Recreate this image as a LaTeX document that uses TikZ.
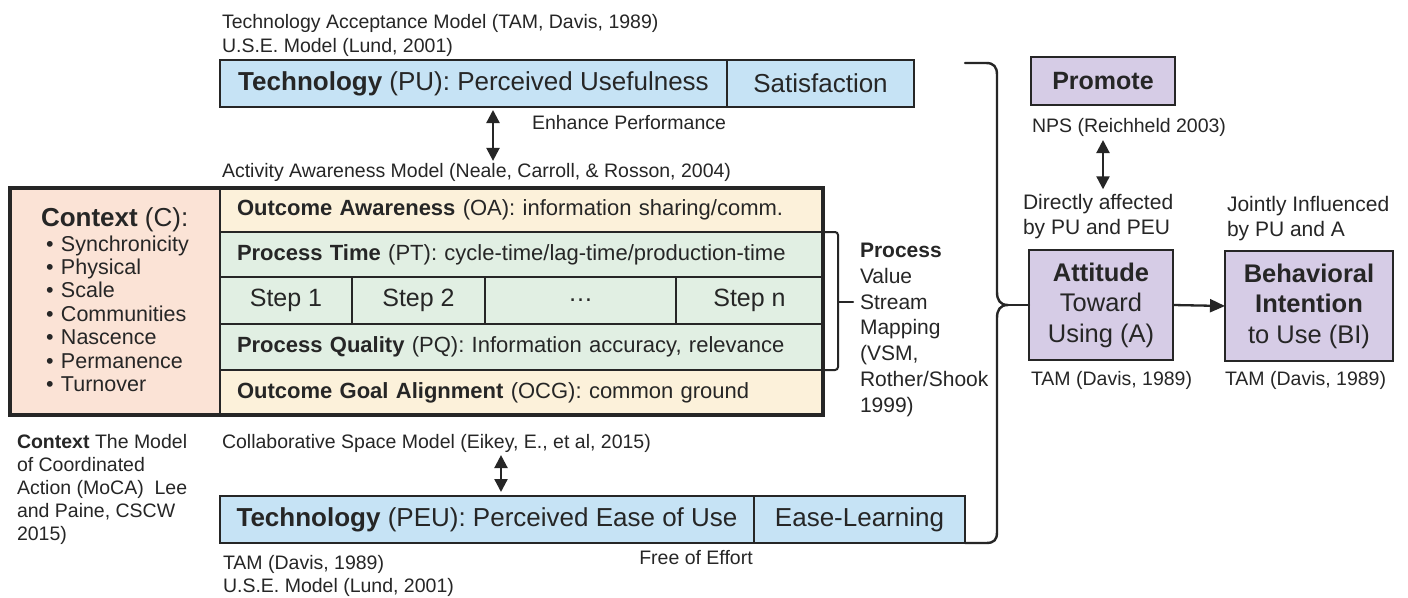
\documentclass[tikz,border=0pt]{standalone}
\usepackage{fontspec}
\setmainfont{Liberation Sans}
\usetikzlibrary{arrows.meta}
\definecolor{techblue}{HTML}{C6E3F5}
\definecolor{ctxpink}{HTML}{FBE3D6}
\definecolor{outcream}{HTML}{FCF1DA}
\definecolor{procgreen}{HTML}{E1EFE3}
\definecolor{purp}{HTML}{D6CCE6}
\definecolor{ink}{HTML}{262626}
\begin{document}
\begin{tikzpicture}[x=1pt,y=-1pt,
  every node/.style={text=ink, inner sep=0pt, outer sep=0pt},
  box/.style={draw=ink, line width=2.8pt, anchor=north west},
  f195/.style={font=\fontsize{19.5}{24}\selectfont},
  f21/.style={font=\fontsize{21}{25}\selectfont},
  f215/.style={font=\fontsize{21.5}{25}\selectfont},
  f25/.style={font=\fontsize{25}{30}\selectfont},
  f26/.style={font=\fontsize{26}{30}\selectfont},
  rowbox/.style={box, text width=569pt, inner xsep=17pt, minimum height=#1, align=left,
    font=\fontsize{22}{26}\selectfont, text height=16pt, text depth=5pt},
  stepbox/.style={box, fill=procgreen, minimum height=47pt, minimum width=#1, f25},
  techbox/.style={box, fill=techblue, minimum height=47pt, minimum width=#1, f26},
  purpbox/.style={box, fill=purp, align=center, font=\fontsize{25.5}{30.5}\selectfont},
  dbl/.style={{Triangle[length=13pt,width=13pt]}-{Triangle[length=13pt,width=13pt]}, draw=ink, line width=2.3pt},
  arr/.style={-{Triangle[length=15pt,width=13pt]}, draw=ink, line width=2.3pt},
  bracestyle/.style={draw=ink, line width=2.4pt, line cap=round, line join=round}
]
\useasboundingbox[fill=white] (0,0) rectangle (1408,597);

% ---------- top labels ----------
\node[f195, anchor=base west] (tamtop) at (222,28) {Technology Acceptance Model (TAM, Davis, 1989)};
\node[f195, anchor=base west] (usetop) at (222,52) {U.S.E. Model (Lund, 2001)};

% ---------- PU box ----------
\node[techbox=507pt] (pu) at (220,60) {\textbf{Technology} (PU): Perceived Usefulness};
\node[techbox=187pt] (sat) at (727,60) {Satisfaction};
\node[f195, anchor=base west] (enh) at (532,129) {Enhance Performance};
\node[f195, anchor=base west] (act) at (222,177) {Activity Awareness Model (Neale, Carroll, \& Rosson, 2004)};
\coordinate (ax1) at (493,0);
\draw[dbl, shorten <=3pt, shorten >=2pt] (ax1 |- pu.south) -- (ax1 |- act.north);

% ---------- context box ----------
\node[box, fill=ctxpink, minimum width=210pt, minimum height=227pt] (ctx) at (10,188) {};
\node[f26, anchor=base west] (ctxtitle) at (41,226) {\textbf{Context} (C):};
\foreach \t [count=\i] in {Synchronicity,Physical,Scale,Communities,Nascence,Permanence,Turnover}
  \node[f215, anchor=base west] (ctxitem\i) at (46,{251+23.4*(\i-1)}) {\makebox[15pt][l]{\textbullet}\t};

% ---------- main block rows ----------
\node[rowbox=44pt, fill=outcream] (oa) at (220,188) {\textbf{Outcome Awareness} (OA): information sharing/comm.};
\node[rowbox=45pt, fill=procgreen] (pt) at (220,232) {\textbf{Process Time} (PT): cycle-time/lag-time/production-time};
\node[stepbox=132pt] (s1) at (220,277) {Step 1};
\node[stepbox=133pt] (s2) at (352,277) {Step 2};
\node[stepbox=191pt] (sdots) at (485,277) {…};
\node[stepbox=147pt] (sn) at (676,277) {Step n};
\node[rowbox=46pt, fill=procgreen] (pq) at (220,324) {\textbf{Process Quality} (PQ): Information accuracy, relevance};
\node[rowbox=45pt, fill=outcream] (oga) at (220,370) {\textbf{Outcome Goal Alignment} (OCG): common ground};
\draw[draw=ink, line width=3.2pt] (ctx.north west) rectangle (oga.south east);

% process bracket
\draw[bracestyle, line width=2pt, rounded corners=3pt] (823,232) -- (838,232) -- (838,370) -- (823,370);
\coordinate (ptip) at (853,302);
\draw[bracestyle, line width=2pt] (838,302) -- (ptip);
\node[f21, anchor=base west] (proc1) at (860,257.5) {\textbf{Process}};
\foreach \t [count=\i from 2] in {Value,Stream,Mapping,{(VSM,},Rother/Shook,1999)}
  \node[f21, anchor=base west] (proc\i) at (860,{257.5+25.8*(\i-1)}) {\t};

% ---------- bottom left labels ----------
\node[f195, anchor=base west] (col) at (222,448) {Collaborative Space Model (Eikey, E., et al, 2015)};
\node[f195, anchor=base west] (ctxl1) at (17,448) {\textbf{Context} The Model};
\node[f195, anchor=base west] (ctxl2) at (17,471) {of Coordinated};
\node[f195, anchor=base west] (ctxl3) at (17,494) {Action (MoCA)\ \ Lee};
\node[f195, anchor=base west] (ctxl4) at (17,517) {and Paine, CSCW};
\node[f195, anchor=base west] (ctxl5) at (17,540) {2015)};

% ---------- PEU box ----------
\node[techbox=534pt] (peu) at (220,496) {\textbf{Technology} (PEU): Perceived Ease of Use};
\node[techbox=211pt] (ease) at (754,496) {Ease-Learning};
\coordinate (ax2) at (501,0);
\draw[dbl, shorten <=3pt, shorten >=4pt] (ax2 |- col.south) -- (ax2 |- peu.north);
\node[f195, anchor=base] (free) at (696,564) {Free of Effort};
\node[f195, anchor=base west] (tambot) at (223,569) {TAM (Davis, 1989)};
\node[f195, anchor=base west] (usebot) at (223,592) {U.S.E. Model (Lund, 2001)};

% ---------- big brace ----------
\coordinate (btip) at (1008,305);
\draw[bracestyle] (965,63) -- (986,63) .. controls (994,63) and (997,67) .. (997,75)
  -- (997,292) .. controls (997,300) and (1000,305) .. (btip)
  .. controls (1000,305) and (997,310) .. (997,318)
  -- (997,532) .. controls (997,540) and (994,543) .. (986,543) -- (965,543);

% ---------- right side ----------
\node[box, fill=purp, minimum width=144pt, minimum height=48pt, font=\fontsize{25}{30}\selectfont] (prom) at (1031,57) {\textbf{Promote}};
\node[f195, anchor=base west] (nps) at (1032,132) {NPS (Reichheld 2003)};
\node[f21, anchor=base west] (dir1) at (1023,209.5) {Directly affected};
\node[f21, anchor=base west] (dir2) at (1023,234.5) {by PU and PEU};
\coordinate (ax3) at (1103,0);
\draw[dbl, shorten <=4pt, shorten >=5pt] (ax3 |- nps.south) -- (ax3 |- dir1.north);

\node[purpbox, minimum width=144pt, minimum height=110pt] (att) at (1029,250) {\textbf{Attitude}\\Toward\\Using (A)};
\node[purpbox, minimum width=168pt, minimum height=110pt] (bi) at (1225,251) {\textbf{Behavioral}\\\textbf{Intention}\\to Use (BI)};
\node[f21, anchor=base west] (joint1) at (1227,211.5) {Jointly Influenced};
\node[f21, anchor=base west] (joint2) at (1227,236.5) {by PU and A};
\node[f195, anchor=base west] (tamA) at (1031,385) {TAM (Davis, 1989)};
\node[f195, anchor=base west] (tamBI) at (1225,385) {TAM (Davis, 1989)};

\draw[bracestyle, line width=2pt] (btip) -- (att.west);
\draw[arr] (att.east) -- (bi.west);
\end{tikzpicture}
\end{document}
